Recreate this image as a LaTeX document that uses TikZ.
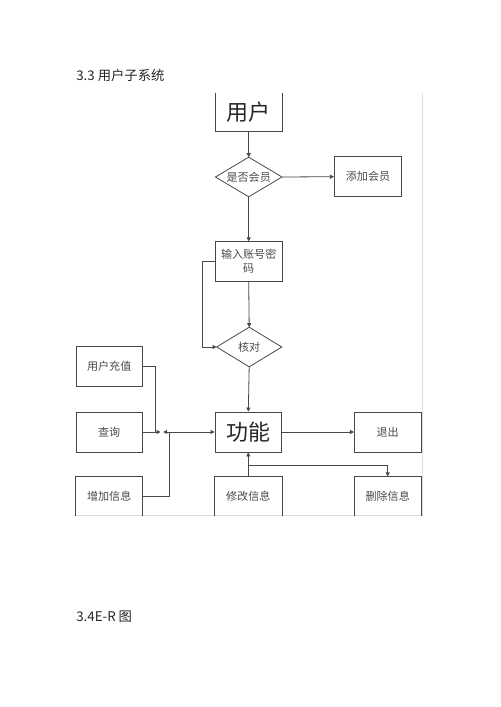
\documentclass[tikz,border=0pt]{standalone}
\usepackage{fontspec}
\newfontfamily\cjk{Noto Sans CJK SC}
\usetikzlibrary{arrows.meta}
\definecolor{ln}{HTML}{484848}
\definecolor{tx}{HTML}{4A4A4A}
\definecolor{frm}{HTML}{D9DEE8}
\tikzset{
  box/.style={draw=ln, line width=0.6pt, rectangle, inner sep=0pt, minimum width=49.8pt, minimum height=30pt, text=tx, font=\cjk\fontsize{8.3pt}{10.5pt}\selectfont, align=center},
  hid/.style={rectangle, inner sep=0pt, minimum width=49.5pt, minimum height=29.3pt, text=tx, font=\cjk\fontsize{8.3pt}{10.5pt}\selectfont, align=center},
  big/.style={font=\cjk\fontsize{16.5pt}{18pt}\selectfont, text=black!85},
  conn/.style={draw=ln, line width=0.6pt},
  arr/.style={conn, -{Triangle[length=3pt,width=3pt]}},
  ttl/.style={anchor=west, inner sep=0pt, font=\cjk\fontsize{10pt}{12pt}\selectfont, text=black!85}
}
\begin{document}
\begin{tikzpicture}[x=0.75pt,y=-0.75pt]
\useasboundingbox (0,0) rectangle (500,707);
% titles
\node[ttl] (t1) at (76,75) {3.3 用户子系统};
\node[ttl] (t2) at (76,617) {3.4E-R 图};
% frame
\draw[frm, line width=0.8pt] (422.7,93) -- (422.7,515.7) -- (76,515.7);
% user box (open top)
\node[hid, big, minimum height=28.5pt] (user) at (248.7,112) {用户};
\draw[conn] (user.north west) -- (user.south west) -- (user.south east) -- (user.north east);
% diamond 1
\node[hid] (d1) at (248.7,177) {是否会员};
\draw[conn] (d1.west) -- (d1.north) -- (d1.east) -- (d1.south) -- cycle;
\node[box, minimum width=50.5pt] (add) at (368,176.7) {添加会员};
\node[box] (input) at (248.7,261.7) {输入账号密\\码};
% diamond 2
\node[hid, minimum width=48.5pt] (d2) at (249.2,347) {核对};
\draw[conn] (d2.west) -- (d2.north) -- (d2.east) -- (d2.south) -- cycle;
% left column
\node[box] (czz) at (109.2,366.7) {用户充值};
\node[box] (cx) at (109.2,432) {查询};
\node[box, big, minimum width=50pt] (gn) at (248.3,432) {功能};
\node[box, minimum width=50pt] (exit) at (387.7,432) {退出};
% bottom row (open bottoms)
\node[hid, minimum width=49.8pt] (zj) at (109.2,496.2) {增加信息};
\node[hid, minimum width=50pt] (xg) at (248.3,496.2) {修改信息};
\node[hid, minimum width=50pt] (sc) at (387.7,496.2) {删除信息};
\foreach \n in {zj,xg,sc}{
  \draw[conn] (\n.south west) -- (\n.north west) -- (\n.north east) -- (\n.south east);
}
% connectors
\draw[arr] (user.south) -- (d1.north);
\draw[arr] (d1.east) -- (add.west);
\draw[arr] (d1.south) -- (input.north);
\draw[arr] (input.south) -- (d2.north);
\draw[arr] (input.west) -- ++(-13,0) |- (d2.west);
\draw[arr] (d2.south) -- (gn.north);
\draw[arr] (gn.east) -- (exit.west);
\coordinate (jA) at (160.5,432);
\coordinate (jAl) at (163.2,432);
\coordinate (jB) at (169.3,432);
\coordinate (jC) at (155.7,432);
\draw[arr] (cx.east) -- (jA);
\draw[conn] (czz.east) -| (jC);
\draw[arr] (zj.east) -| (jB) -- (jAl);
\draw[arr] (jB) -- (gn.west);
\draw[arr] (xg.north) -- (gn.south);
\coordinate (jD) at (248.3,465);
\draw[arr] (jD) -| (sc.north);
\end{tikzpicture}
\end{document}
